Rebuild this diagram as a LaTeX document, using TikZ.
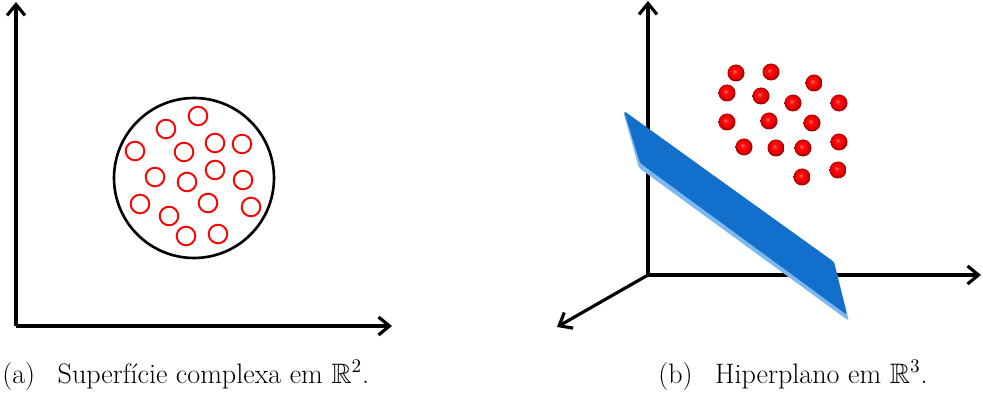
\documentclass[tikz,border=0pt]{standalone}
\usepackage{amsmath,amssymb}
\usepackage{xcolor}
\usetikzlibrary{arrows.meta}

\definecolor{slabblue}{RGB}{18,112,204}
\definecolor{slabedge}{RGB}{125,185,238}
\pgfdeclareradialshading{redball}{\pgfpoint{-5bp}{5bp}}{%
  color(0bp)=(red!55!white); color(7bp)=(red!95!white);
  color(18bp)=(red!92!black); color(25bp)=(red!60!black);
  color(50bp)=(red!60!black)}

\begin{document}
\begin{tikzpicture}[
    x=0.02cm, y=-0.02cm,
    every node/.style={font=\fontsize{16}{19}\selectfont},
    axis/.style={line width=1.8pt, -{Straight Barb[length=2.2mm, width=3.6mm]}},
    bigring/.style={draw, line width=1.5pt},
    ring/.style={draw=red, line width=1.1pt},
    ball/.style={shading=redball},
    caption/.style={anchor=base west, inner sep=0pt},
]
\useasboundingbox (0,0) rectangle (983,401);

% Left panel: axes
\coordinate (o1) at (16,326);
\coordinate (x1) at (392,326);
\coordinate (y1) at (16,2);
\draw[axis] (o1) -- (x1);
\draw[axis] (o1) -- (y1);

% Circle with the points
\coordinate (c1) at (194,178);
\draw[bigring] (c1) circle (1.6cm);
\foreach \px/\py in {198/116, 166/129, 215/143, 242/144, 135/151, 184/152,
                     215/170, 155/177, 187/182, 243/180, 140/204, 208/203,
                     251/207, 169/216, 186/236, 218/234}
    \draw[ring] (\px,\py) circle (0.186cm);

% Right panel: axes
\coordinate (o2) at (648,275);
\coordinate (x2) at (981,275);
\coordinate (y2) at (648,1);
\coordinate (z2) at (557,327);
\draw[axis] (o2) -- (x2);
\draw[axis] (o2) -- (y2);
\draw[axis] (o2) -- (z2);

% Hyperplane
\fill[slabedge, rounded corners=1.5pt] (623,111) -- (834,262) -- (849,321) -- (639,168) -- cycle;
\fill[slabblue, rounded corners=1.5pt] (624,111) -- (834,262) -- (847,315) -- (640,163) -- cycle;

% Points
\foreach \px/\py in {736/73, 771/72, 814/83, 727/93, 761/96, 793/103,
                     839/103, 727/122, 769/121, 812/123, 744/147, 776/148,
                     803/148, 839/142, 802/177, 838/170}
    \shade[ball] (\px,\py) circle (0.17cm);

% Captions
\node[caption] (capa) at (2,384) {(a)\hspace{0.45cm}Superfície complexa em $\mathbb{R}^2$.};
\node[caption] (capb) at (658,384) {(b)\hspace{0.45cm}Hiperplano em $\mathbb{R}^3$.};

\end{tikzpicture}
\end{document}
